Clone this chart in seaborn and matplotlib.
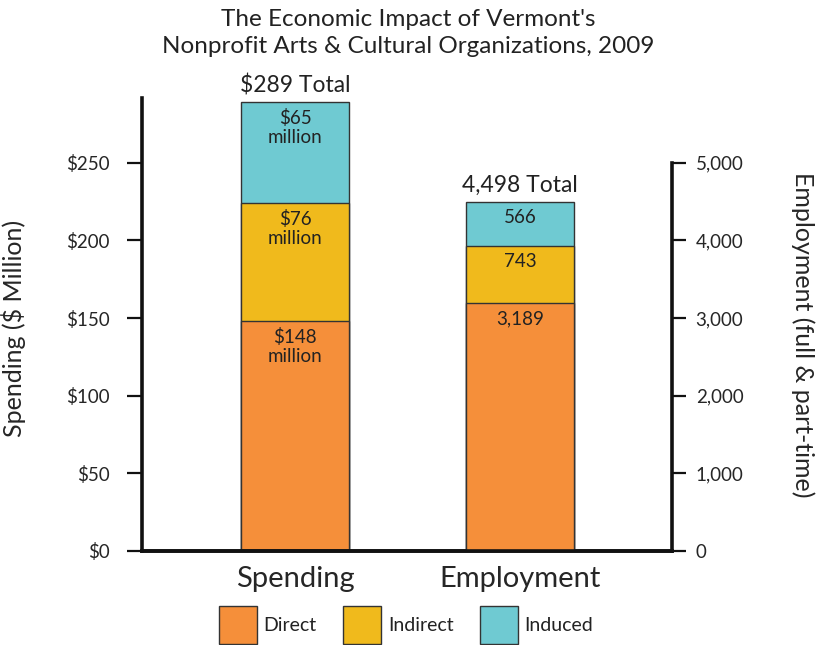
import pandas as pd
import matplotlib
matplotlib.use("Agg")
import matplotlib.pyplot as plt
from matplotlib.patches import Patch
from matplotlib.ticker import FuncFormatter
import seaborn as sns

# data
categories = ["Spending", "Employment"]
layers = ["Direct", "Indirect", "Induced"]
spending = [148, 76, 65]          # $ million
employment = [3189, 743, 566]     # jobs
spending_labels = ["$148\nmillion", "$76\nmillion", "$65\nmillion"]
employment_labels = ["3,189", "743", "566"]
colors = ["#F58F3A", "#F0BA1C", "#6FCAD2"]

sns.set_style("ticks")
plt.rcParams["font.family"] = ["Lato", "DejaVu Sans"]
plt.rcParams["text.color"] = "#222222"

fig = plt.figure(figsize=(8.17, 6.45), dpi=100)
ax = fig.add_axes([142 / 817, 1 - 551 / 645, 530 / 817, 458 / 645])
ax2 = ax.twinx()

edge = "#333333"
bw = 0.48

# stacked bars: draw cumulative totals from top layer down
cum_s = pd.Series(spending).cumsum().tolist()
cum_e = pd.Series(employment).cumsum().tolist()
for i in reversed(range(3)):
    sns.barplot(x=["Spending"], y=[cum_s[i]], order=categories, ax=ax,
                color=colors[i], edgecolor=edge, linewidth=1.0, width=bw,
                saturation=1)
    sns.barplot(x=["Employment"], y=[cum_e[i]], order=categories, ax=ax2,
                color=colors[i], edgecolor=edge, linewidth=1.0, width=bw,
                saturation=1)

# segment labels
for i in range(3):
    ax.annotate(spending_labels[i], (0, cum_s[i]), xytext=(0, -5),
                textcoords="offset points", ha="center", va="top",
                fontsize=13.5, linespacing=1.1)
    ax2.annotate(employment_labels[i], (1, cum_e[i]), xytext=(0, -5),
                 textcoords="offset points", ha="center", va="top",
                 fontsize=13.5)
ax.annotate(f"${cum_s[-1]} Total", (0, cum_s[-1]), xytext=(0, 4),
            textcoords="offset points", ha="center", va="bottom", fontsize=16.5)
ax2.annotate(f"{cum_e[-1]:,} Total", (1, cum_e[-1]), xytext=(0, 4),
             textcoords="offset points", ha="center", va="bottom", fontsize=16.5)

# axes
ax.set_ylim(0, 295)
ax2.set_ylim(0, 5900)
ax.set_xlim(-0.68, 1.676)
ax.set_yticks([0, 50, 100, 150, 200, 250])
ax2.set_yticks([0, 1000, 2000, 3000, 4000, 5000])
ax.yaxis.set_major_formatter(FuncFormatter(lambda v, p: f"${v:.0f}"))
ax2.yaxis.set_major_formatter(FuncFormatter(lambda v, p: f"{v:,.0f}"))

ax.set_xticks([0, 1])
ax.set_xticklabels(categories, fontsize=21)
ax.tick_params(axis="x", length=0, pad=11)
ax2.tick_params(axis="x", length=0)
ax.tick_params(axis="y", length=11, width=1.6, labelsize=13.5, pad=12,
               color="#111111")
ax2.tick_params(axis="y", length=10, width=1.6, labelsize=13.5, pad=7,
                color="#111111")

ax.set_xlabel("")
ax2.set_xlabel("")
ax.set_ylabel("Spending ($ Million)", fontsize=18, va="center")
ax.yaxis.set_label_coords(-0.243, 0.487)
ax2.set_ylabel("Employment (full & part-time)", fontsize=18, rotation=270,
               va="center")
ax2.yaxis.set_label_coords(1.247, 0.472)

for a in (ax, ax2):
    a.spines["top"].set_visible(False)
    for s in ("left", "right", "bottom"):
        a.spines[s].set_linewidth(2.6)
        a.spines[s].set_color("#111111")
ax.spines["right"].set_visible(False)
ax2.spines["left"].set_visible(False)
ax.spines["left"].set_bounds(0, 292)
ax2.spines["right"].set_bounds(0, 5000)

fig.text(0.5, 0.986, "The Economic Impact of Vermont's\n"
         "Nonprofit Arts & Cultural Organizations, 2009",
         ha="center", va="top", fontsize=17.5, linespacing=1.35)

handles = [Patch(facecolor=c, edgecolor=edge, linewidth=1.0) for c in colors]
fig.legend(handles, layers, loc="center", bbox_to_anchor=(0.497, 0.031),
           ncol=3, frameon=False, fontsize=14, handlelength=1.95,
           handleheight=2.6, columnspacing=1.35, handletextpad=0.35)

fig.savefig("out.png", dpi=100)
